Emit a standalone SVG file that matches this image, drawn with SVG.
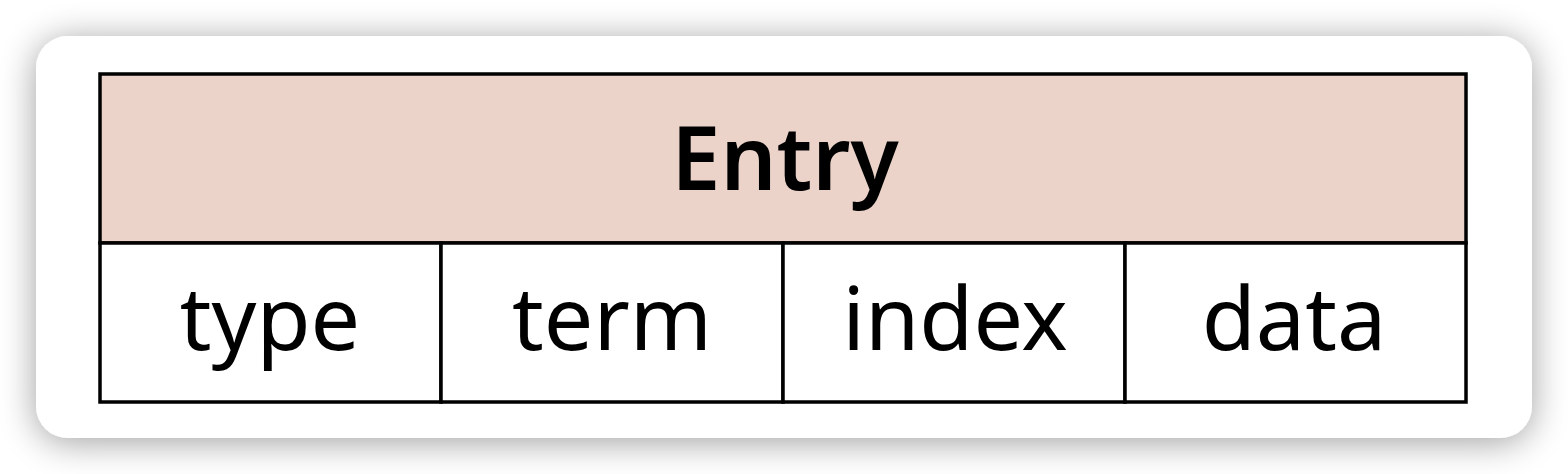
<svg xmlns="http://www.w3.org/2000/svg" width="1568" height="474" viewBox="0 0 1568 474">
  <defs>
    <filter id="shadow" x="-10%" y="-30%" width="120%" height="160%">
      <feGaussianBlur in="SourceAlpha" stdDeviation="18"/>
      <feOffset dx="0" dy="4" result="b"/>
      <feComponentTransfer><feFuncA type="linear" slope="0.38"/></feComponentTransfer>
      <feMerge><feMergeNode/><feMergeNode in="SourceGraphic"/></feMerge>
    </filter>
  </defs>
  <style>
    .cell { fill: #ffffff; stroke: #000000; stroke-width: 3.5; }
    .head { fill: #EBD3CA; stroke: #000000; stroke-width: 3.5; }
    .lbl { font-family: "Noto Sans", "Open Sans", sans-serif; font-size: 88px; fill: #000000; text-anchor: middle; }
    .title { font-weight: 600; }
  </style>
  <rect width="1568" height="474" fill="#ffffff"/>
  <rect x="36" y="36" width="1496" height="402" rx="32" ry="32" fill="#ffffff" filter="url(#shadow)"/>
  <g id="entry">
    <rect class="head" x="100" y="74" width="1366" height="169"/>
    <text class="lbl title" x="785" y="190">Entry</text>
  </g>
  <g id="type">
    <rect class="cell" x="100" y="243" width="341" height="159"/>
    <text class="lbl" x="270" y="350">type</text>
  </g>
  <g id="term">
    <rect class="cell" x="441" y="243" width="342" height="159"/>
    <text class="lbl" x="612" y="350">term</text>
  </g>
  <g id="index">
    <rect class="cell" x="783" y="243" width="342" height="159"/>
    <text class="lbl" x="955" y="350">index</text>
  </g>
  <g id="data">
    <rect class="cell" x="1125" y="243" width="341" height="159"/>
    <text class="lbl" x="1294" y="350">data</text>
  </g>
  <g id="connectors"/>
</svg>
